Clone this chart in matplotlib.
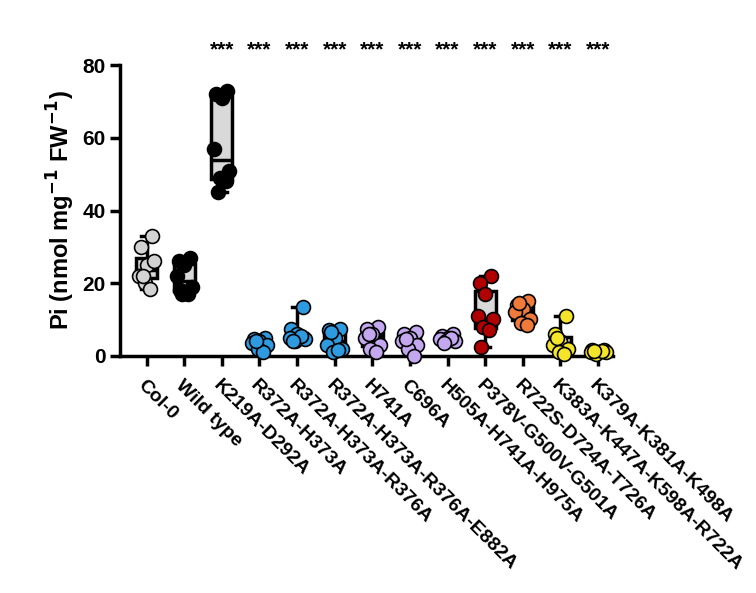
import matplotlib.pyplot as plt
import numpy as np

labels = ["Col-0", "Wild type", "K219A-D292A", "R372A-H373A", "R372A-H373A-R376A",
          "R372A-H373A-R376A-E882A", "H741A", "C696A", "H505A-H741A-H975A",
          "P378V-G500V-G501A", "R722S-D724A-T726A", "K383A-K447A-K598A-R722A",
          "K379A-K381A-K498A"]

values = [
    [33, 30, 25, 22, 26, 20, 18.5, 22],
    [27, 26, 25, 22, 19, 17, 17, 18],
    [73, 72, 71, 57, 51, 49, 48, 45],
    [5, 4.5, 4, 3.5, 3, 2, 1, 4],
    [13.5, 7.5, 6, 5, 4.5, 4, 5.5, 4],
    [7.5, 7, 5, 3, 2, 1, 1.5, 6.5],
    [8, 7.5, 6, 5, 3, 2, 1, 6],
    [6.5, 6, 5, 4, 3, 2, 0, 4.5],
    [6, 5.5, 5, 4.5, 4, 4, 5, 3.5],
    [22, 20, 17, 11, 10, 8, 7, 2.5],
    [15, 14, 13, 12, 10, 9, 8.5, 14.5],
    [11, 6, 4, 3, 2, 1, 0.5, 5],
    [1.5, 1.5, 1, 1, 1, 0.5, 1.2, 1.3],
]

colors = ["#d3d3d3", "#000000", "#000000", "#2e9be0", "#2e9be0", "#2e9be0", "#c3a8f0",
          "#c3a8f0", "#c3a8f0", "#b00000", "#f07a3a", "#f5e52a", "#f5e52a"]

stars = [None, None] + ["***"] * 11

plt.rcParams["font.family"] = "Liberation Sans"
fig = plt.figure(figsize=(7.56, 5.93), dpi=100)
ax = fig.add_axes([0.159, 0.40, 0.652, 0.49])

pos = np.arange(len(labels))
ax.boxplot(values, positions=pos, widths=0.55, whis=(0, 100), patch_artist=True,
           showfliers=False,
           boxprops=dict(facecolor="#d9d9d9", edgecolor="black", linewidth=2.5),
           whiskerprops=dict(color="black", linewidth=2.5),
           capprops=dict(color="black", linewidth=2.5),
           medianprops=dict(color="black", linewidth=2.5))

jit = np.array([0.15, -0.15, 0.0, -0.2, 0.2, -0.05, 0.1, -0.1])
for i, (v, c) in enumerate(zip(values, colors)):
    ax.scatter(pos[i] + jit[:len(v)], v, s=100, color=c, edgecolor="black",
               linewidth=1.2, zorder=3, clip_on=False)
    if stars[i]:
        ax.text(pos[i], 81.5, stars[i], ha="center", va="bottom", fontsize=15,
                fontweight="bold")

ax.set_xlim(-0.7, 12.4)
ax.set_ylim(0, 80)
ax.set_yticks([0, 20, 40, 60, 80])
ax.set_xticks(pos)
ax.set_xticklabels(labels, rotation=-45, ha="left", rotation_mode="anchor",
                   fontsize=14, fontweight="bold")
for t in ax.get_yticklabels():
    t.set_fontweight("bold")
ax.tick_params(axis="y", labelsize=15, width=2.5, length=7)
ax.tick_params(axis="x", width=2.5, length=7, pad=8)
ax.set_ylabel("Pi (nmol mg$^{\\mathbf{-1}}$ FW$^{\\mathbf{-1}}$)", fontsize=17,
              fontweight="bold")
for s in ["top", "right"]:
    ax.spines[s].set_visible(False)
for s in ["left", "bottom"]:
    ax.spines[s].set_linewidth(2.5)

fig.savefig("out.png", dpi=100)
